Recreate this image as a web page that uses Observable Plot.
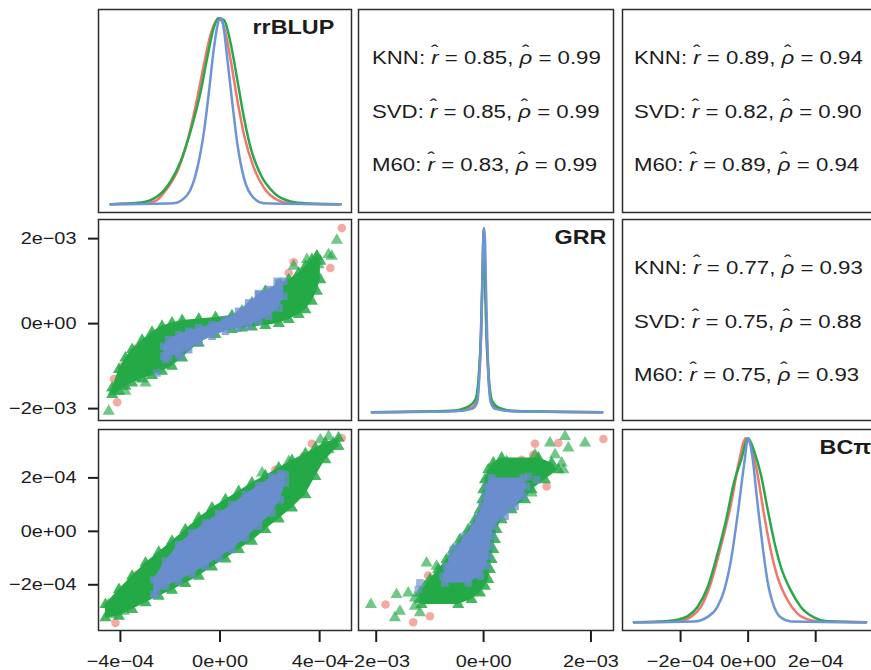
<!DOCTYPE html>
<html><head><meta charset="utf-8">
<script src="https://cdn.jsdelivr.net/npm/d3@7"></script>
<script src="https://cdn.jsdelivr.net/npm/@observablehq/plot@0.6"></script>
<style>
html,body{margin:0;padding:0;background:#fff;overflow:hidden;}
#fig{position:relative;width:871px;height:670px;overflow:hidden;background:#fff;}
#fig svg{position:absolute;overflow:visible;}
</style></head><body><div id="fig"></div>
<script>
// ---------- variables, ticks ----------
const varNames = ["rrBLUP", "GRR", "BC\u03c0"];
const rrDomain = [-4.88e-4, 5.28e-4];
const grrDomainX = [-2.33e-3, 2.42e-3];
const grrDomainY = [-2.28e-3, 2.45e-3];
const bcDomainX = [-3.72e-4, 3.80e-4];
const bcDomainY = [-3.71e-4, 3.81e-4];
const rrTicks = [-4e-4, 0, 4e-4];
const rrTickLabels = ["\u22124e\u221204", "0e+00", "4e\u221204"];
const grrTicks = [-2e-3, 0, 2e-3];
const grrTickLabels = ["\u22122e\u221203", "0e+00", "2e\u221203"];
const bcTicks = [-2e-4, 0, 2e-4];
const bcTickLabels = ["\u22122e\u221204", "0e+00", "2e\u221204"];

// ---------- correlation text ----------
const methods = ["KNN", "SVD", "M60"];
const rrGrrR = ["0.85", "0.85", "0.83"];
const rrGrrRho = ["0.99", "0.99", "0.99"];
const rrBcR = ["0.89", "0.82", "0.89"];
const rrBcRho = ["0.94", "0.90", "0.94"];
const grrBcR = ["0.77", "0.75", "0.75"];
const grrBcRho = ["0.93", "0.88", "0.93"];

// ---------- densities (x, relative density) ----------
const rrRed = [[-4.39e-4,0],[-3.3e-4,0.002],[-2.64e-4,0.014],[-2.11e-4,0.087],[-1.71e-4,0.177],[-1.31e-4,0.339],[-0.91e-4,0.574],[-0.64e-4,0.755],[-0.37e-4,0.917],[-0.04e-4,1.0],[0.16e-4,0.953],[0.43e-4,0.773],[0.70e-4,0.556],[0.96e-4,0.375],[1.36e-4,0.195],[1.77e-4,0.087],[2.30e-4,0.023],[2.84e-4,0.004],[4.84e-4,0]];
const rrGreen = [[-4.39e-4,0],[-3.18e-4,0.009],[-2.51e-4,0.042],[-1.98e-4,0.123],[-1.58e-4,0.231],[-1.18e-4,0.394],[-0.77e-4,0.61],[-0.51e-4,0.79],[-0.24e-4,0.953],[-0.06e-4,1.0],[0.16e-4,0.99],[0.43e-4,0.863],[0.70e-4,0.664],[0.96e-4,0.466],[1.23e-4,0.303],[1.63e-4,0.159],[2.17e-4,0.06],[2.84e-4,0.014],[3.51e-4,0.004],[4.84e-4,0]];
const rrBlue = [[-4.39e-4,0],[-1.85e-4,0.005],[-1.31e-4,0.05],[-0.91e-4,0.195],[-0.64e-4,0.394],[-0.44e-4,0.61],[-0.24e-4,0.845],[-0.04e-4,0.99],[0.06e-4,1.0],[0.16e-4,0.935],[0.30e-4,0.773],[0.50e-4,0.538],[0.70e-4,0.321],[0.96e-4,0.141],[1.36e-4,0.032],[1.77e-4,0.005],[4.84e-4,0]];

const grrRed = [[-2.08e-3,0],[-5.5e-4,0.006],[-2.3e-4,0.025],[-1.3e-4,0.06],[-0.85e-4,0.19],[-0.5e-4,0.41],[-0.25e-4,0.68],[0.05e-4,1.0],[0.3e-4,0.68],[0.55e-4,0.41],[0.9e-4,0.19],[1.4e-4,0.06],[2.3e-4,0.022],[5.5e-4,0.006],[2.21e-3,0]];
const grrGreen = [[-2.08e-3,0],[-6e-4,0.008],[-2.6e-4,0.035],[-1.5e-4,0.07],[-0.9e-4,0.2],[-0.5e-4,0.42],[-0.25e-4,0.7],[0.05e-4,1.0],[0.3e-4,0.7],[0.55e-4,0.42],[0.95e-4,0.2],[1.6e-4,0.06],[2.8e-4,0.025],[6e-4,0.006],[2.21e-3,0]];
const grrBlue = [[-2.08e-3,0],[-5.27e-4,0.005],[-2.16e-4,0.018],[-1.23e-4,0.05],[-0.80e-4,0.186],[-0.48e-4,0.40],[-0.24e-4,0.67],[-0.06e-4,0.94],[0.07e-4,1.0],[0.26e-4,0.94],[0.45e-4,0.67],[0.69e-4,0.40],[0.93e-4,0.186],[1.38e-4,0.05],[2.18e-4,0.018],[5.29e-4,0.005],[2.21e-3,0]];

const bcRed = [[-3.38e-4,0],[-2.09e-4,0.004],[-1.70e-4,0.029],[-1.40e-4,0.083],[-1.11e-4,0.209],[-0.81e-4,0.41],[-0.51e-4,0.64],[-0.27e-4,0.874],[-0.07e-4,1.0],[0.08e-4,0.964],[0.28e-4,0.80],[0.47e-4,0.586],[0.67e-4,0.39],[0.87e-4,0.245],[1.17e-4,0.119],[1.46e-4,0.047],[1.86e-4,0.011],[2.25e-4,0.002],[3.49e-4,0]];
const bcGreen = [[-3.38e-4,0],[-2.59e-4,0.004],[-2.09e-4,0.014],[-1.80e-4,0.032],[-1.50e-4,0.083],[-1.20e-4,0.19],[-0.91e-4,0.37],[-0.66e-4,0.55],[-0.41e-4,0.766],[-0.22e-4,0.874],[0,1.0],[0.18e-4,0.928],[0.38e-4,0.80],[0.57e-4,0.62],[0.77e-4,0.44],[0.97e-4,0.30],[1.27e-4,0.17],[1.56e-4,0.083],[1.96e-4,0.025],[2.35e-4,0.005],[3.49e-4,0]];
const bcBlue = [[-3.38e-4,0],[-1.60e-4,0.004],[-1.20e-4,0.029],[-0.91e-4,0.083],[-0.71e-4,0.173],[-0.51e-4,0.335],[-0.31e-4,0.586],[-0.12e-4,0.856],[0,1.0],[0.13e-4,0.892],[0.28e-4,0.64],[0.43e-4,0.41],[0.57e-4,0.227],[0.77e-4,0.083],[0.97e-4,0.025],[1.27e-4,0.004],[3.49e-4,0]];

// ---------- scatter: GRR (y) vs rrBLUP (x); bands [x, lower y, upper y] ----------
const grrRrGreenBand = [[-4.33e-4,-1.671e-3,-1.513e-3],[-4.06e-4,-1.592e-3,-1.082e-3],[-3.80e-4,-1.475e-3,-0.807e-3],[-3.53e-4,-1.396e-3,-0.612e-3],[-3.13e-4,-1.302e-3,-0.392e-3],[-2.73e-4,-1.224e-3,-0.204e-3],[-2.33e-4,-1.121e-3,-0.063e-3],[-1.93e-4,-1.004e-3,0.016e-3],[-1.52e-4,-0.808e-3,0.071e-3],[-0.85e-4,-0.455e-3,0.110e-3],[-0.18e-4,-0.259e-3,0.141e-3],[0.48e-4,-0.141e-3,0.188e-3],[0.88e-4,-0.102e-3,0.290e-3],[1.28e-4,-0.078e-3,0.486e-3],[1.82e-4,-0.047e-3,0.761e-3],[2.36e-4,0.0,0.918e-3],[2.76e-4,0.094e-3,1.035e-3],[3.16e-4,0.212e-3,1.192e-3],[3.43e-4,0.329e-3,1.349e-3],[3.69e-4,0.525e-3,1.506e-3],[3.89e-4,0.761e-3,1.584e-3],[4.03e-4,1.035e-3,1.466e-3]];
const grrRrBlueBand = [[-2.26e-4,-0.769e-3,-0.534e-3],[-2.06e-4,-0.784e-3,-0.376e-3],[-1.66e-4,-0.729e-3,-0.259e-3],[-1.26e-4,-0.612e-3,-0.180e-3],[-0.85e-4,-0.455e-3,-0.102e-3],[-0.32e-4,-0.298e-3,-0.024e-3],[0.22e-4,-0.180e-3,0.094e-3],[0.75e-4,-0.102e-3,0.290e-3],[1.15e-4,-0.047e-3,0.486e-3],[1.55e-4,0.055e-3,0.682e-3],[1.95e-4,0.172e-3,0.800e-3],[2.36e-4,0.369e-3,0.957e-3],[2.56e-4,0.643e-3,0.996e-3]];
const grrRrRedPts = [[4.89e-4,2.251e-3],[4.43e-4,1.310e-3],[2.96e-4,1.443e-3],[2.76e-4,1.192e-3],[-4.13e-4,-1.851e-3],[-4.26e-4,-1.302e-3],[-3.33e-4,-0.572e-3],[-3.93e-4,-1.004e-3]];
const grrRrGreenPts = [[-4.47e-4,-2.063e-3],[-4.26e-4,-1.592e-3],[-3.80e-4,-1.592e-3],[-3.39e-4,-1.278e-3],[-2.99e-4,-1.396e-3],[-3.86e-4,-1.302e-3],[2.96e-4,1.349e-3],[3.49e-4,1.506e-3],[3.89e-4,1.584e-3],[4.36e-4,1.624e-3],[4.69e-4,1.961e-3],[4.49e-4,1.584e-3],[3.96e-4,1.388e-3]];
const grrRrBluePts = [[-2.53e-4,-1.161e-3],[-1.59e-4,-0.769e-3],[1.55e-4,0.706e-3],[2.29e-4,0.996e-3],[-2.19e-4,-0.847e-3]];

// ---------- scatter: BCpi (y) vs rrBLUP (x) ----------
const bcRrGreenBand = [[-4.60e-4,-3.237e-4,-2.740e-4],[-4.06e-4,-3.177e-4,-2.179e-4],[-3.53e-4,-2.927e-4,-1.682e-4],[-2.99e-4,-2.676e-4,-1.181e-4],[-2.46e-4,-2.430e-4,-0.785e-4],[-1.93e-4,-2.205e-4,-0.374e-4],[-1.39e-4,-1.955e-4,0.064e-4],[-0.85e-4,-1.682e-4,0.501e-4],[-0.32e-4,-1.331e-4,0.875e-4],[0.22e-4,-1.032e-4,1.185e-4],[0.75e-4,-0.684e-4,1.495e-4],[1.28e-4,-0.374e-4,1.809e-4],[1.82e-4,0.064e-4,2.082e-4],[2.36e-4,0.464e-4,2.370e-4],[2.89e-4,0.875e-4,2.654e-4],[3.43e-4,1.372e-4,2.904e-4],[3.83e-4,2.056e-4,3.117e-4],[4.23e-4,2.680e-4,3.304e-4],[4.76e-4,3.177e-4,3.491e-4]];
const bcRrBlueBand = [[-2.66e-4,-2.366e-4,-1.805e-4],[-2.19e-4,-2.056e-4,-1.121e-4],[-1.66e-4,-1.869e-4,-0.497e-4],[-1.12e-4,-1.581e-4,-0.060e-4],[-0.59e-4,-1.308e-4,0.314e-4],[-0.05e-4,-0.994e-4,0.662e-4],[0.48e-4,-0.684e-4,0.998e-4],[1.02e-4,-0.247e-4,1.372e-4],[1.55e-4,0.187e-4,1.708e-4],[2.09e-4,0.688e-4,2.033e-4],[2.42e-4,1.185e-4,2.157e-4],[2.62e-4,1.809e-4,2.119e-4]];
const bcRrRedPts = [[4.89e-4,3.491e-4],[3.69e-4,3.278e-4],[-4.20e-4,-3.424e-4],[-3.33e-4,-1.619e-4],[3.36e-4,2.804e-4],[2.22e-4,2.306e-4]];
const bcRrGreenPts = [[-4.47e-4,-2.740e-4],[-4.33e-4,-3.114e-4],[-3.86e-4,-2.990e-4],[-3.53e-4,-2.243e-4],[4.36e-4,3.551e-4],[4.56e-4,3.304e-4],[4.03e-4,3.428e-4],[4.36e-4,3.054e-4],[3.69e-4,2.744e-4],[2.76e-4,2.617e-4],[1.69e-4,2.183e-4],[-3.26e-4,-1.682e-4]];
const bcRrBluePts = [[-2.53e-4,-1.929e-4],[-2.53e-4,-2.303e-4]];

// ---------- scatter: BCpi (y) vs GRR (x); bands [y, left x, right x] ----------
const bcGrrGreenBand = [[2.744e-4,0.336e-3,1.020e-3],[2.557e-4,0.181e-3,1.268e-3],[2.306e-4,0.088e-3,1.392e-3],[1.933e-4,0.026e-3,1.145e-3],[1.559e-4,-0.006e-3,0.895e-3],[1.185e-4,-0.024e-3,0.772e-3],[0.811e-4,-0.067e-3,0.522e-3],[0.437e-4,-0.160e-3,0.336e-3],[0.064e-4,-0.285e-3,0.242e-3],[-0.310e-4,-0.440e-3,0.212e-3],[-0.684e-4,-0.565e-3,0.181e-3],[-1.058e-4,-0.690e-3,0.149e-3],[-1.432e-4,-0.844e-3,0.119e-3],[-1.805e-4,-0.999e-3,0.088e-3],[-2.056e-4,-1.092e-3,0.026e-3],[-2.303e-4,-1.186e-3,-0.067e-3],[-2.553e-4,-1.186e-3,-0.224e-3],[-2.740e-4,-1.156e-3,-0.472e-3]];
const bcGrrBlueBand = [[1.996e-4,0.149e-3,0.740e-3],[1.682e-4,0.056e-3,0.800e-3],[1.308e-4,0.026e-3,0.740e-3],[0.935e-4,-0.024e-3,0.585e-3],[0.561e-4,-0.099e-3,0.399e-3],[0.187e-4,-0.192e-3,0.181e-3],[-0.187e-4,-0.347e-3,0.150e-3],[-0.561e-4,-0.472e-3,0.120e-3],[-0.935e-4,-0.596e-3,0.090e-3],[-1.308e-4,-0.690e-3,0.050e-3],[-1.682e-4,-0.751e-3,-0.060e-3],[-1.929e-4,-0.720e-3,-0.285e-3]];
const bcGrrRedPts = [[-1.827e-3,-2.740e-4],[-1.310e-3,-3.402e-4],[-0.999e-3,-3.177e-4],[2.231e-3,3.454e-4],[0.958e-3,3.278e-4],[1.392e-3,3.304e-4],[1.174e-3,1.682e-4],[-1.031e-3,-1.656e-4],[0.926e-3,2.867e-4],[0.708e-3,2.680e-4]];
const bcGrrGreenPts = [[-2.099e-3,-2.740e-4],[-1.622e-3,-2.366e-4],[-1.404e-3,-2.303e-4],[-1.279e-3,-2.804e-4],[-1.652e-3,-3.237e-4],[-1.558e-3,-2.990e-4],[-1.186e-3,-3.050e-4],[-1.062e-3,-1.181e-4],[-0.876e-3,-1.308e-4],[1.517e-3,3.551e-4],[1.238e-3,3.304e-4],[1.890e-3,3.304e-4],[1.579e-3,3.117e-4],[1.331e-3,2.867e-4],[1.454e-3,2.557e-4],[1.486e-3,2.306e-4],[1.145e-3,2.430e-4],[0.895e-3,1.435e-4],[0.958e-3,2.867e-4],[0.429e-3,2.617e-4],[-1.279e-3,-2.490e-4]];
const bcGrrBluePts = [[-1.186e-3,-1.929e-4],[-1.217e-3,-2.179e-4],[0.833e-3,2.056e-4],[0.988e-3,1.933e-4],[-0.565e-3,-0.684e-4]];

// ---------- styles ----------
const RED = "#ec625b", GREEN = "#24a947", BLUE = "#6a8ecd";
const LRED = "#f0776d", LGREEN = "#2aa74a", LBLUE = "#6d94d6";
const INK = "#1c1c1c";
const FONT = '"Liberation Sans", Arial, Helvetica, sans-serif';
const COLS = [[98, 351], [358, 613], [622, 876]];
const ROWS = [[9, 212], [219, 420], [429, 630]];
const DENS_DOMAIN = [-0.045, 1.047];
const STRETCH = 1.17;
const fig = document.getElementById("fig");

function panel(col, row, o) {
  const [L, R] = COLS[col], [T, B] = ROWS[row];
  const mL = o.yAxis ? 100 : 2, mR = 2, mT = 2, mB = o.xAxis ? 38 : 2;
  const marks = [...o.marks];
  if (o.yAxis) marks.push(Plot.axisY(o.yAxis[0], {anchor: "left", tickSize: 10, tickPadding: 12, strokeWidth: 2, fontSize: 17,
    tickFormat: d => o.yAxis[1][o.yAxis[0].indexOf(d)]}));
  if (o.xAxis) marks.push(Plot.axisX(o.xAxis[0], {anchor: "bottom", tickSize: 12, tickPadding: 12, strokeWidth: 2, fontSize: 17,
    tickFormat: d => o.xAxis[1][o.xAxis[0].indexOf(d)]}));
  marks.push(Plot.frame({stroke: "#2c2c2c", strokeWidth: 1.5}));
  const svg = Plot.plot({
    width: R - L + mL + mR, height: B - T + mT + mB,
    marginLeft: mL, marginRight: mR, marginTop: mT, marginBottom: mB,
    x: o.xDomain ? {domain: o.xDomain, axis: o.xAxis ? undefined : null} : {axis: null},
    y: o.yDomain ? {domain: o.yDomain, axis: o.yAxis ? undefined : null} : {axis: null},
    style: {background: "transparent", overflow: "visible", fontFamily: FONT, fontSize: "17px", color: INK},
    marks
  });
  svg.style.left = (L - mL) + "px";
  svg.style.top = (T - mT) + "px";
  fig.appendChild(svg);
  return svg;
}

function densityMarks(r, g, b, title, dx) {
  const opt = (c) => ({x: d => d[0], y: d => d[1], stroke: c, strokeWidth: 2.5, curve: "monotone-x"});
  return [
    Plot.line(r, opt(LRED)),
    Plot.line(g, opt(LGREEN)),
    Plot.line(b, opt(LBLUE)),
    Plot.text([title], {text: d => d, frameAnchor: "top-left", dx, dy: 18, textAnchor: "start", lineAnchor: "middle",
      fontSize: 20, fontWeight: "bold", fill: INK})
  ];
}

function scatterMarks(green, blue, redPts, greenPts, bluePts, horizontal) {
  const A = horizontal ? Plot.areaX : Plot.areaY;
  const ao = horizontal ? {y: d => d[0], x1: d => d[1], x2: d => d[2]} : {x: d => d[0], y1: d => d[1], y2: d => d[2]};
  const e1 = horizontal ? {x: d => d[1], y: d => d[0]} : {x: d => d[0], y: d => d[1]};
  const e2 = horizontal ? {x: d => d[2], y: d => d[0]} : {x: d => d[0], y: d => d[2]};
  const pt = {x: d => d[0], y: d => d[1]};
  return [
    Plot.dot(redPts, {...pt, r: 4.3, fill: RED, fillOpacity: 0.55}),
    A(green, {...ao, fill: GREEN, curve: "linear"}),
    Plot.dot(green, {...e1, symbol: "triangle", r: 4.5, fill: GREEN, fillOpacity: 0.85}),
    Plot.dot(green, {...e2, symbol: "triangle", r: 4.5, fill: GREEN, fillOpacity: 0.85}),
    Plot.dot(greenPts, {...pt, symbol: "triangle", r: 4.5, fill: GREEN, fillOpacity: 0.65}),
    A(blue, {...ao, fill: BLUE, curve: "linear"}),
    Plot.dot(blue, {...e1, symbol: "square", r: 4.3, fill: BLUE, fillOpacity: 0.75}),
    Plot.dot(blue, {...e2, symbol: "square", r: 4.3, fill: BLUE, fillOpacity: 0.75}),
    Plot.dot(bluePts, {...pt, symbol: "square", r: 4.3, fill: BLUE, fillOpacity: 0.65})
  ];
}

function statMarks(rv, rhov, dx) {
  const centers = [48, 102, 155];
  return methods.map((m, i) => Plot.text([`${m}: r\u0302 = ${rv[i]}, \u03c1\u0302 = ${rhov[i]}`], {
    text: d => d, frameAnchor: "top-left", dx, dy: centers[i], textAnchor: "start", lineAnchor: "middle",
    fontSize: 19, fill: INK}));
}

const svgs = [];
// row 1
svgs.push(panel(0, 0, {xDomain: rrDomain, yDomain: DENS_DOMAIN, marks: densityMarks(rrRed, rrGreen, rrBlue, varNames[0], 154)}));
svgs.push(panel(1, 0, {marks: statMarks(rrGrrR, rrGrrRho, 13.5)}));
svgs.push(panel(2, 0, {marks: statMarks(rrBcR, rrBcRho, 11.5)}));
// row 2
svgs.push(panel(0, 1, {xDomain: rrDomain, yDomain: grrDomainY, yAxis: [grrTicks, grrTickLabels],
  marks: scatterMarks(grrRrGreenBand, grrRrBlueBand, grrRrRedPts, grrRrGreenPts, grrRrBluePts, false)}));
svgs.push(panel(1, 1, {xDomain: grrDomainX, yDomain: DENS_DOMAIN, marks: densityMarks(grrRed, grrGreen, grrBlue, varNames[1], 196)}));
svgs.push(panel(2, 1, {marks: statMarks(grrBcR, grrBcRho, 11.5)}));
// row 3
svgs.push(panel(0, 2, {xDomain: rrDomain, yDomain: bcDomainY, yAxis: [bcTicks, bcTickLabels], xAxis: [rrTicks, rrTickLabels],
  marks: scatterMarks(bcRrGreenBand, bcRrBlueBand, bcRrRedPts, bcRrGreenPts, bcRrBluePts, false)}));
svgs.push(panel(1, 2, {xDomain: grrDomainX, yDomain: bcDomainY, xAxis: [grrTicks, grrTickLabels],
  marks: scatterMarks(bcGrrGreenBand, bcGrrBlueBand, bcGrrRedPts, bcGrrGreenPts, bcGrrBluePts, true)}));
svgs.push(panel(2, 2, {xDomain: bcDomainX, yDomain: DENS_DOMAIN, xAxis: [bcTicks, bcTickLabels],
  marks: densityMarks(bcRed, bcGreen, bcBlue, varNames[2], 197)}));

// hats drawn as raised spacing circumflexes over italic r / rho, then horizontal text stretch (reference type is wide)
const NS = "http://www.w3.org/2000/svg";
const HAT_BACK = {"r": 0.34, "\u03c1": 0.46};
const HAT_W = 0.333;
function buildHats(t) {
  const s = t.textContent;
  if (!s.includes("\u0302")) return;
  t.textContent = "";
  const add = (txt, attrs) => {
    const ts = document.createElementNS(NS, "tspan");
    ts.textContent = txt;
    for (const k in attrs) ts.setAttribute(k, attrs[k]);
    t.appendChild(ts);
  };
  const re = /([r\u03c1])\u0302/g;
  let last = 0, m, pend = {};
  while ((m = re.exec(s))) {
    if (m.index > last) { add(s.slice(last, m.index), pend); pend = {}; }
    add(m[1], Object.assign({"font-style": "italic"}, pend));
    const a = HAT_BACK[m[1]];
    add("\u02c6", {dx: `-${a}em`, dy: "-0.3em"});
    pend = {dx: `${(a - HAT_W).toFixed(3)}em`, dy: "0.3em"};
    last = re.lastIndex;
  }
  if (last < s.length) add(s.slice(last), pend);
}
for (const svg of svgs) {
  svg.querySelectorAll("text").forEach(t => {
    buildHats(t);
    const tr = t.getAttribute("transform") || "";
    const xs = t.getAttribute("x");
    let xv = 0;
    if (xs !== null && xs.trim() !== "" && !isNaN(+xs)) { xv = +xs; t.removeAttribute("x"); }
    t.setAttribute("transform", `${tr} translate(${xv},0) scale(${STRETCH},1)`.trim());
  });
}
</script></body></html>
